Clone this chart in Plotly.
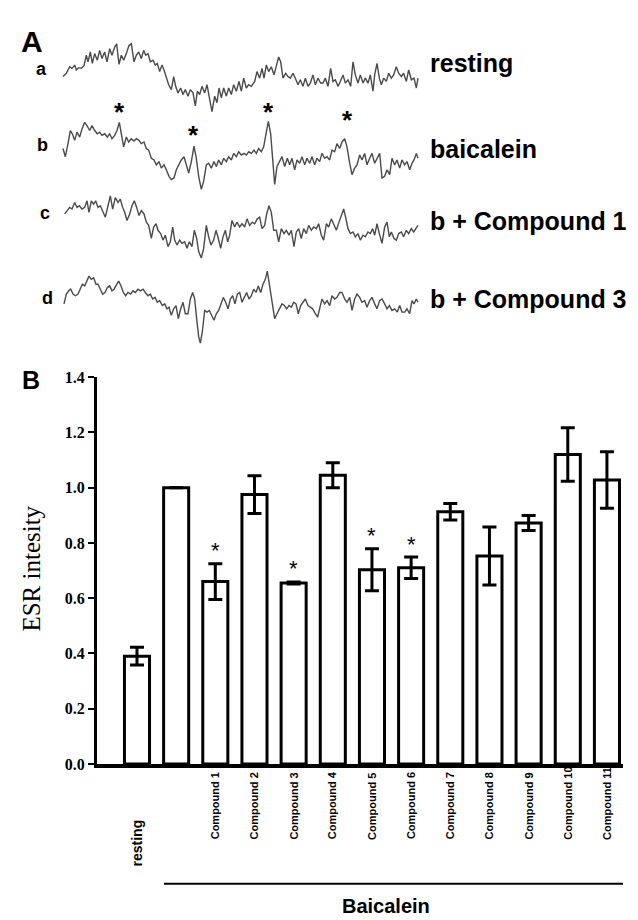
import plotly.graph_objects as go

# ---------------- DATA ----------------
# Panel A: ESR spectra, (field position, downward deflection) (arb. units)
spectrum_a = [(15,125),(25,115),(35,95),(42,100),(50,90),(55,105),(62,98),(70,100),(78,92),(85,60),(90,80),(97,50),(103,85),(110,55),(118,75),(125,45),(132,70),(140,50),(147,80),(155,40),(162,60),(170,35),(176,25),(183,88),(190,60),(197,75),(205,55),(213,30),(220,25),(228,80),(235,60),(242,50),(250,70),(257,45),(263,60),(270,55),(277,80),(285,75),(292,90),(298,85),(305,110),(312,90),(318,105),(325,130),(332,150),(340,165),(347,125),(353,155),(360,175),(368,160),(375,180),(382,165),(390,185),(397,165),(405,175),(412,215),(418,170),(425,180),(432,155),(440,175),(447,150),(455,195),(462,232),(470,185),(477,205),(483,160),(490,190),(497,160),(505,185),(512,160),(520,180),(527,150),(535,170),(543,140),(550,170),(557,130),(565,160),(572,150),(580,155),(590,140),(597,110),(605,130),(612,100),(618,130),(625,90),(632,110),(640,95),(648,120),(655,95),(662,65),(668,80),(675,130),(683,115),(690,125),(697,130),(705,115),(712,130),(720,150),(727,135),(735,155),(742,130),(750,155),(757,145),(765,120),(772,150),(780,130),(788,145),(795,145),(802,130),(810,155),(818,100),(825,140),(832,135),(840,155),(847,140),(855,120),(862,145),(870,135),(878,155),(885,80),(892,120),(900,145),(907,120),(915,145),(922,130),(930,145),(937,120),(945,170),(950,120),(957,85),(964,130),(970,150),(977,130),(985,140),(992,115),(1000,130),(1007,120),(1015,95),(1022,115),(1030,125),(1037,115),(1045,140),(1052,105),(1060,135),(1068,130),(1075,160),(1080,130)]

spectrum_b = [(15,345),(22,370),(30,330),(37,290),(43,300),(50,320),(57,295),(65,310),(72,285),(80,265),(87,275),(95,290),(102,275),(110,290),(118,300),(125,295),(132,305),(140,300),(148,310),(155,300),(162,315),(170,305),(177,290),(184,265),(190,300),(197,340),(205,310),(212,325),(220,315),(228,322),(235,315),(243,320),(250,330),(258,325),(265,345),(272,350),(280,375),(288,380),(295,395),(303,385),(310,405),(318,395),(325,410),(333,430),(340,440),(348,435),(355,410),(362,395),(370,380),(378,370),(385,395),(392,420),(400,385),(408,338),(415,375),(422,430),(430,470),(437,445),(445,395),(452,390),(460,405),(468,385),(475,400),(482,380),(490,395),(497,375),(505,385),(512,370),(520,380),(527,360),(535,370),(542,355),(550,365),(558,360),(565,365),(572,355),(580,360),(588,350),(595,360),(602,345),(610,355),(617,340),(624,300),(631,262),(638,300),(645,380),(650,455),(657,400),(664,385),(672,370),(680,400),(688,375),(695,395),(702,375),(710,410),(717,380),(725,390),(732,370),(740,395),(747,375),(755,390),(762,370),(770,395),(777,375),(785,385),(792,360),(800,375),(807,370),(815,380),(822,350),(830,355),(837,330),(845,345),(852,325),(860,315),(867,340),(875,390),(882,425),(890,405),(897,395),(905,365),(912,380),(920,360),(927,395),(935,375),(942,360),(950,390),(957,375),(965,360),(972,435),(980,430),(987,410),(995,425),(1002,375),(1010,395),(1017,380),(1025,405),(1032,380),(1040,395),(1047,385),(1055,410),(1062,390),(1068,380),(1075,360),(1080,375)]

spectrum_c = [(20,80),(27,70),(35,60),(42,65),(50,45),(57,60),(64,55),(72,65),(80,60),(87,40),(93,75),(100,40),(107,50),(113,40),(120,60),(127,55),(135,75),(142,90),(150,55),(157,25),(164,65),(172,30),(180,45),(187,35),(194,60),(200,75),(207,100),(215,80),(222,55),(229,40),(236,60),(243,85),(250,70),(258,80),(265,105),(272,115),(280,155),(287,120),(294,110),(300,130),(308,140),(315,160),(322,145),(330,180),(337,165),(344,120),(350,160),(357,175),(365,160),(372,170),(380,165),(387,185),(394,165),(402,180),(409,130),(416,155),(422,195),(430,215),(437,185),(445,115),(452,150),(459,175),(467,160),(474,130),(481,155),(488,185),(495,150),(502,130),(509,165),(515,145),(522,100),(530,120),(537,105),(545,120),(552,110),(560,120),(567,95),(575,115),(583,105),(590,110),(598,95),(605,90),(612,125),(620,115),(626,80),(633,55),(640,75),(647,130),(655,130),(662,165),(670,125),(678,140),(685,130),(693,145),(700,130),(708,180),(715,135),(722,125),(730,155),(737,125),(745,140),(752,115),(760,130),(767,120),(775,125),(782,110),(790,145),(797,160),(805,110),(812,120),(820,95),(828,115),(835,130),(843,105),(850,85),(857,65),(864,95),(870,125),(877,140),(885,135),(892,150),(900,140),(907,160),(915,145),(922,150),(930,135),(937,140),(944,125),(950,145),(957,110),(964,140),(972,170),(980,120),(987,105),(994,150),(1000,135),(1008,155),(1015,160),(1022,140),(1030,135),(1037,150),(1045,130),(1052,140),(1060,125),(1067,135),(1080,115)]

spectrum_d = [(18,115),(25,85),(32,75),(38,70),(45,85),(52,90),(60,85),(67,70),(73,55),(80,60),(87,45),(93,30),(100,40),(107,35),(114,55),(120,55),(127,70),(134,85),(141,80),(148,65),(155,60),(162,75),(168,70),(175,55),(182,45),(189,60),(196,80),(203,90),(210,80),(218,85),(225,75),(232,80),(240,70),(247,75),(255,70),(262,80),(270,90),(277,85),(284,100),(291,95),(298,110),(305,105),(313,120),(320,115),(327,130),(333,125),(340,150),(347,130),(354,120),(361,160),(368,130),(375,110),(382,145),(390,145),(397,100),(404,80),(410,100),(417,170),(422,215),(427,235),(433,200),(440,135),(447,140),(454,135),(461,150),(468,165),(475,145),(482,135),(489,115),(496,95),(503,110),(510,130),(517,100),(524,90),(531,115),(538,85),(545,80),(552,110),(559,95),(566,80),(573,100),(580,90),(587,70),(594,80),(601,60),(608,80),(615,55),(622,40),(628,15),(635,60),(642,115),(650,160),(657,145),(664,130),(672,115),(679,120),(686,130),(693,120),(700,125),(707,110),(714,115),(721,145),(728,120),(735,110),(742,100),(750,120),(757,125),(764,130),(772,145),(779,155),(786,125),(792,100),(800,115),(807,105),(815,120),(822,90),(830,100),(837,95),(845,80),(852,80),(860,100),(867,110),(875,95),(882,135),(890,100),(897,85),(905,95),(912,110),(920,105),(927,125),(935,105),(942,95),(950,115),(957,130),(965,105),(972,100),(980,115),(987,130),(994,120),(1002,135),(1010,130),(1018,140),(1025,120),(1032,140),(1040,140),(1047,130),(1055,145),(1062,105),(1068,115),(1075,100),(1080,110)]

spectrum_letters = ["a", "b", "c", "d"]
spectrum_names = ["resting", "baicalein", "b + Compound 1", "b + Compound 3"]
star_fields = [183, 407, 632, 868]          # peaks marked * on spectrum b

# Panel B: bar chart
bar_labels = ["resting", "", "Compound 1", "Compound 2", "Compound 3", "Compound 4", "Compound 5",
              "Compound 6", "Compound 7", "Compound 8", "Compound 9", "Compound 10", "Compound 11"]
esr_mean = [0.39, 1.00, 0.66, 0.975, 0.655, 1.045, 0.703, 0.710, 0.913, 0.753, 0.872, 1.120, 1.028]
esr_err = [0.032, 0.0, 0.065, 0.068, 0.004, 0.045, 0.076, 0.039, 0.030, 0.105, 0.027, 0.097, 0.102]
significant = [False, False, True, False, True, False, True, True, False, False, False, False, False]
y_ticks = [0.0, 0.2, 0.4, 0.6, 0.8, 1.0, 1.2, 1.4]
group_label = "Baicalein"

# ---------------- LAYOUT HELPERS ----------------
W, H = 638, 920
def fx(px):
    return px / W
def fy(py):
    return 1 - py / H

fig = go.Figure()

# Panel A spectra (each on its own invisible y axis, sharing one field axis)
spectra = [spectrum_a, spectrum_b, spectrum_c, spectrum_d]
bands = [(20, 105, [255, 0]), (105, 180, [480, 255]), (180, 250, [225, 15]), (255, 340, [255, 0])]
for i, spec in enumerate(spectra):
    xs = [p[0] for p in spec]
    ys = [p[1] for p in spec]
    fig.add_trace(go.Scatter(x=xs, y=ys, mode="lines", xaxis="x2", yaxis="y%d" % (i + 2),
                             line=dict(color="#4a4a4a", width=1.4), hoverinfo="skip"))

layout_axes = {}
layout_axes["xaxis2"] = dict(domain=[fx(50), fx(415)], range=[0, 1095], visible=False, anchor="y2")
for i, (top, bot, rng) in enumerate(bands):
    layout_axes["yaxis%d" % (i + 2)] = dict(domain=[fy(bot), fy(top)], range=rng, visible=False, anchor="x2")

# Panel B bars
xs = list(range(len(esr_mean)))
fig.add_trace(go.Bar(x=xs, y=esr_mean, width=0.64,
                     marker=dict(color="white", line=dict(color="black", width=3)),
                     error_y=dict(type="data", array=esr_err, visible=True, color="black",
                                  thickness=3, width=7),
                     xaxis="x", yaxis="y", hoverinfo="skip"))

annotations = []
sans = "Liberation Sans, Arial, sans-serif"
serif = "Liberation Serif, Times New Roman, serif"

def note(text, x, y, size, family=sans, xref="paper", yref="paper", xanchor="center",
         yanchor="middle", **kw):
    d = dict(text=text, x=x, y=y, xref=xref, yref=yref, xanchor=xanchor, yanchor=yanchor,
             showarrow=False, borderpad=0, font=dict(family=family, size=size, color="black"))
    d.update(kw)
    annotations.append(d)

# panel letters
note("<b>A</b>", fx(24), fy(26), 30)
note("<b>B</b>", fx(23), fy(371), 25)

letter_pos = [(33, 54), (34, 131), (37, 201), (39, 287)]
name_pos = [48, 136, 208.5, 288.5]
for i in range(4):
    lx, ly = letter_pos[i]
    note("<b>%s</b>" % spectrum_letters[i], fx(lx), fy(ly), 18)
    note("<b>%s</b>" % spectrum_names[i], fx(421), fy(name_pos[i]), 25, xanchor="left")

star_py = [91.7, 115, 91.7, 100]
for f, py in zip(star_fields, star_py):
    note("<b>*</b>", f, fy(py), 26, xref="x2", yshift=-6)

# y title
note("ESR intesity", fx(24), fy(563), 25, family=serif, textangle=-90)

# bar stars
for i, sig in enumerate(significant):
    if sig:
        note("*", i, esr_mean[i] + esr_err[i] + 0.065, 22, xref="x", yref="y", yshift=-5)

# category labels
for i, lab in enumerate(bar_labels):
    if not lab:
        continue
    if lab == "resting":
        note("<b>%s</b>" % lab, i, fy(867), 14, xref="x", yanchor="bottom", textangle=-90)
    else:
        note("<b>%s</b>" % lab, i, fy(840), 11, xref="x", yanchor="bottom", textangle=-90)

note("<b>%s</b>" % group_label, fx(378), fy(907), 20)

shapes = [dict(type="line", xref="paper", yref="paper", x0=fx(156), x1=fx(615), y0=fy(884), y1=fy(884),
               line=dict(color="black", width=2))]

fig.update_layout(
    width=W, height=H, margin=dict(l=0, r=0, t=0, b=0),
    paper_bgcolor="white", plot_bgcolor="white", showlegend=False,
    xaxis=dict(domain=[fx(89), fx(615)], range=[-1.021, 12.41], showline=True, linewidth=4,
               linecolor="black", showticklabels=False, ticks="", showgrid=False, zeroline=False,
               anchor="y"),
    yaxis=dict(domain=[fy(762), fy(368)], range=[0, 1.4], showline=True, linewidth=3,
               linecolor="black", tickvals=y_ticks, ticktext=["<b>%.1f</b>" % v for v in y_ticks],
               ticks="outside", ticklen=6, tickwidth=2, tickcolor="black",
               tickfont=dict(family=serif, size=16, color="black"),
               showgrid=False, zeroline=False, anchor="x"),
    annotations=annotations, shapes=shapes,
    **layout_axes,
)

fig.write_html("out.html")
